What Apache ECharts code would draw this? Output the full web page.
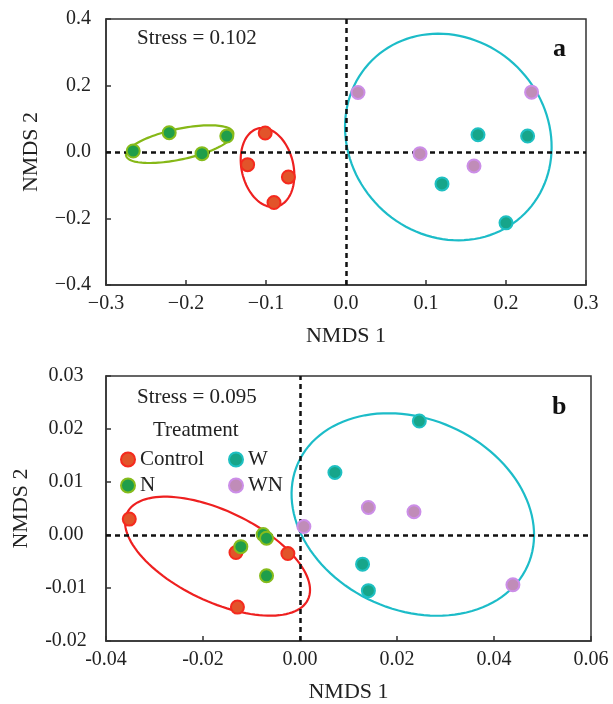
<!DOCTYPE html>
<html>
<head>
<meta charset="utf-8">
<script src="https://cdn.jsdelivr.net/npm/echarts@6/dist/echarts.min.js"></script>
<style>
  html, body { margin: 0; padding: 0; background: #fff; }
  #main { width: 613px; height: 704px; }
</style>
</head>
<body>
<div id="main"></div>
<script>
  // panel a points [NMDS1, NMDS2]
  const controlA = [[-0.101, 0.057], [-0.123, -0.038], [-0.072, -0.075], [-0.090, -0.152]];
  const nA = [[-0.266, 0.003], [-0.221, 0.058], [-0.149, 0.048], [-0.180, -0.005]];
  const wA = [[0.165, 0.052], [0.227, 0.048], [0.120, -0.096], [0.200, -0.213]];
  const wnA = [[0.015, 0.179], [0.232, 0.180], [0.0925, -0.005], [0.160, -0.042]];

  // panel b points
  const controlB = [[-0.0352, 0.0030], [-0.0132, -0.0033], [-0.0025, -0.0035], [-0.0129, -0.0136]];
  const nB = [[-0.0122, -0.0022], [-0.0076, 0.0001], [-0.0069, -0.0006], [-0.0069, -0.0077]];
  const wB = [[0.0246, 0.0215], [0.0072, 0.0118], [0.0129, -0.0055], [0.0141, -0.0105]];
  const wnB = [[0.0008, 0.0016], [0.0141, 0.0052], [0.0235, 0.0044], [0.0439, -0.0094]];

  // ellipses: [centre x, centre y, semi-axis 1 (x, y), semi-axis 2 (x, y)]
  const ellNA = [-0.2079, 0.0236, 0.0670, 0.0346, 0.0040, -0.0450];
  const ellControlA = [-0.0981, -0.0466, 0.01144, -0.1175, -0.0315, -0.01775];
  const ellWA = [0.1279, 0.0451, 0.0956, -0.2301, -0.0868, -0.2088];
  const ellControlB = [-0.0170, -0.0040, 0.01864, -0.00817, -0.00402, -0.00770];
  const ellWB = [0.02326, 0.00387, 0.02367, -0.00968, -0.00805, -0.01647];

  // axis ranges [min, max, interval]
  const xRangeA = [-0.3, 0.3, 0.1];
  const yRangeA = [-0.4, 0.4, 0.2];
  const xRangeB = [-0.04, 0.06, 0.02];
  const yRangeB = [-0.02, 0.03, 0.01];

  const stressA = 'Stress = 0.102';
  const stressB = 'Stress = 0.095';

  const FONT = '"Liberation Serif", "Times New Roman", serif';
  const INK = '#222';

  const colors = {
    Control: { fill: '#e2542a', border: '#f52a1e', line: '#ee2020' },
    N: { fill: '#1f9e4a', border: '#86bc1c', line: '#86b817' },
    W: { fill: '#17a58a', border: '#1fc0c2', line: '#1cbcc8' },
    WN: { fill: '#c08cb8', border: '#cc8ee8', line: '#cc8ee8' }
  };

  function fmt(dec, minus) {
    return function (v) {
      let s = Math.abs(v).toFixed(dec);
      if (Math.abs(v) < 1e-9) return s;
      return v < 0 ? minus + s : s;
    };
  }

  function xAxisOf(idx, r, dec, minus) {
    return {
      type: 'value', gridIndex: idx, min: r[0], max: r[1], interval: r[2],
      name: 'NMDS 1', nameLocation: 'middle', nameGap: 40,
      nameTextStyle: { fontFamily: FONT, fontSize: 22, color: INK },
      axisLine: { show: true, onZero: false, lineStyle: { color: '#333', width: 1.5 } },
      axisTick: { show: true, inside: true, length: 5, lineStyle: { color: '#333', width: 1.5 } },
      axisLabel: { fontFamily: FONT, fontSize: 20, color: INK, margin: 9, formatter: fmt(dec, minus), showMinLabel: true, showMaxLabel: true },
      splitLine: { show: false }
    };
  }

  function yAxisOf(idx, r, dec, minus, gap, label) {
    return {
      type: 'value', gridIndex: idx, min: r[0], max: r[1], interval: r[2],
      name: 'NMDS 2', nameLocation: 'middle', nameGap: gap,
      nameTextStyle: { fontFamily: FONT, fontSize: 22, color: INK },
      axisLine: { show: true, onZero: false, lineStyle: { color: '#333', width: 1.5 } },
      axisTick: { show: true, inside: true, length: 5, lineStyle: { color: '#333', width: 1.5 } },
      axisLabel: Object.assign({ fontFamily: FONT, fontSize: 20, color: INK, formatter: fmt(dec, minus), showMinLabel: true, showMaxLabel: true }, label),
      splitLine: { show: false }
    };
  }

  function scatter(name, data, idx) {
    return {
      name: name, type: 'scatter', xAxisIndex: idx, yAxisIndex: idx,
      data: data, symbol: 'circle', symbolSize: 13, z: 5,
      itemStyle: { color: colors[name].fill, borderColor: colors[name].border, borderWidth: 2, opacity: 1 }
    };
  }

  function ellipse(name, params, idx) {
    return {
      type: 'custom', xAxisIndex: idx, yAxisIndex: idx, z: 3, silent: true,
      data: [params],
      encode: { x: 0, y: 1 },
      renderItem: function (p, api) {
        const cx = api.value(0), cy = api.value(1);
        const ux = api.value(2), uy = api.value(3), vx = api.value(4), vy = api.value(5);
        const pts = [];
        for (let i = 0; i < 120; i++) {
          const t = i / 120 * Math.PI * 2;
          pts.push(api.coord([cx + ux * Math.cos(t) + vx * Math.sin(t), cy + uy * Math.cos(t) + vy * Math.sin(t)]));
        }
        return {
          type: 'polygon', shape: { points: pts },
          style: { fill: 'none', stroke: colors[name].line, lineWidth: 2.2 }
        };
      }
    };
  }

  function zeroLines(idx) {
    return {
      type: 'scatter', xAxisIndex: idx, yAxisIndex: idx, data: [], z: 4, silent: true,
      markLine: {
        silent: true, symbol: 'none', label: { show: false },
        lineStyle: { color: '#111', type: [5, 4], width: 2.5 },
        data: [{ xAxis: 0 }, { yAxis: 0 }]
      }
    };
  }

  const chart = echarts.init(document.getElementById('main'), null, { renderer: 'canvas' });

  chart.setOption({
    animation: false,
    backgroundColor: '#fff',
    grid: [
      { left: 106, right: 27, top: 19, height: 266, show: true, borderColor: '#333', borderWidth: 1.5, backgroundColor: 'transparent' },
      { left: 106, right: 22, top: 376, height: 265, show: true, borderColor: '#333', borderWidth: 1.5, backgroundColor: 'transparent' }
    ],
    xAxis: [
      xAxisOf(0, xRangeA, 1, '\u2212'),
      xAxisOf(1, xRangeB, 2, '-')
    ],
    yAxis: [
      yAxisOf(0, yRangeA, 1, '\u2212', 64, { margin: 15 }),
      yAxisOf(1, yRangeB, 2, '-', 74, { margin: 40, align: 'center' })
    ],
    legend: [
      {
        data: ['Control', 'N'], orient: 'vertical', left: 115, top: 444,
        itemWidth: 14, itemHeight: 14, itemGap: 5, icon: 'circle',
        selectedMode: false,
        textStyle: { fontFamily: FONT, fontSize: 21, color: INK }
      },
      {
        data: ['W', 'WN'], orient: 'vertical', left: 223, top: 444,
        itemWidth: 14, itemHeight: 14, itemGap: 5, icon: 'circle',
        selectedMode: false,
        textStyle: { fontFamily: FONT, fontSize: 21, color: INK }
      }
    ],
    graphic: [
      { type: 'text', left: 137, top: 28, style: { text: stressA, font: '21px ' + FONT, fill: INK } },
      { type: 'text', left: 137, top: 387, style: { text: stressB, font: '21px ' + FONT, fill: INK } },
      { type: 'text', left: 153, top: 420, style: { text: 'Treatment', font: '21px ' + FONT, fill: INK } },
      { type: 'text', left: 553, top: 36, style: { text: 'a', font: 'bold 26px ' + FONT, fill: '#111' } },
      { type: 'text', left: 552, top: 394, style: { text: 'b', font: 'bold 26px ' + FONT, fill: '#111' } }
    ],
    series: [
      zeroLines(0),
      zeroLines(1),
      ellipse('N', ellNA, 0),
      ellipse('Control', ellControlA, 0),
      ellipse('W', ellWA, 0),
      ellipse('Control', ellControlB, 1),
      ellipse('W', ellWB, 1),
      scatter('Control', controlA, 0),
      scatter('N', nA, 0),
      scatter('W', wA, 0),
      scatter('WN', wnA, 0),
      scatter('Control', controlB, 1),
      scatter('N', nB, 1),
      scatter('W', wB, 1),
      scatter('WN', wnB, 1)
    ]
  });
</script>
</body>
</html>
